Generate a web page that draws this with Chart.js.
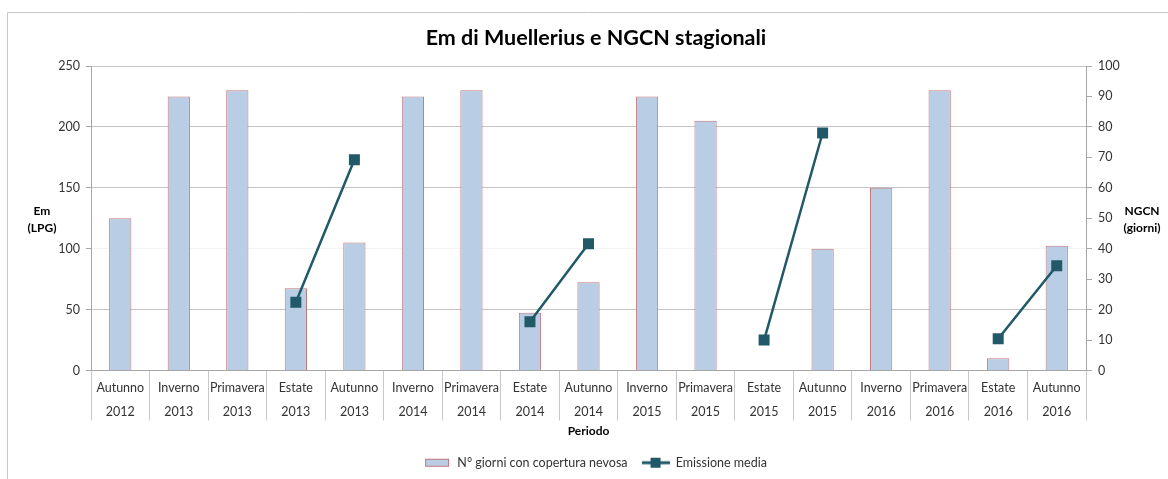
<!DOCTYPE html>
<html>
<head>
<meta charset="utf-8">
<script src="https://cdn.jsdelivr.net/npm/chart.js@4"></script>
<style>
  body { margin: 0; background: #fff; }
</style>
</head>
<body>
<canvas id="chart" width="1168" height="479"></canvas>
<script>
// --- data ---
const seasons = ['Autunno', 'Inverno', 'Primavera', 'Estate', 'Autunno', 'Inverno', 'Primavera', 'Estate', 'Autunno',
                 'Inverno', 'Primavera', 'Estate', 'Autunno', 'Inverno', 'Primavera', 'Estate', 'Autunno'];
const years = ['2012', '2013', '2013', '2013', '2013', '2014', '2014', '2014', '2014',
               '2015', '2015', '2015', '2015', '2016', '2016', '2016', '2016'];
// N° giorni con copertura nevosa (right axis)
const giorniNeve = [50, 90, 92, 27, 42, 90, 92, 19, 29, 90, 82, 0, 40, 60, 92, 4, 41];
// Emissione media (left axis), only estate/autunno
const emissione = [null, null, null, 56, 173, null, null, 40, 104, null, null, 25, 195, null, null, 26, 86];

const leftTicks = { min: 0, max: 250, step: 50 };
const rightTicks = { min: 0, max: 100, step: 10 };

const chartTitle = 'Em di Muellerius e NGCN stagionali';

const barFill = '#b9cde5';
const barBorder = '#c0757a';
const lineColor = '#215968';
const axisGray = '#a6a6a6';

Chart.defaults.font.family = 'Lato';
Chart.defaults.font.size = 12;
Chart.defaults.color = '#333';

function legendIcon(kind) {
    const c = document.createElement('canvas');
    c.width = 28; c.height = 12;
    const g = c.getContext('2d');
    if (kind === 'bar') {
        g.fillStyle = barFill;
        g.fillRect(2, 2, 24, 8);
        g.strokeStyle = barBorder;
        g.lineWidth = 1;
        g.strokeRect(2.5, 2.5, 23, 7);
    } else {
        g.strokeStyle = lineColor;
        g.lineWidth = 3;
        g.beginPath(); g.moveTo(0, 6); g.lineTo(28, 6); g.stroke();
        g.fillStyle = lineColor;
        g.fillRect(9, 1, 10, 10);
    }
    return c;
}
const icons = [legendIcon('bar'), legendIcon('line')];

// frame, title (centred on the frame, not the canvas) and horizontal axis titles
const extras = {
    id: 'extras',
    beforeDraw(chart) {
        const ctx = chart.ctx;
        ctx.save();
        ctx.strokeStyle = '#c8c8c8';
        ctx.lineWidth = 1;
        ctx.beginPath();
        ctx.moveTo(7.5, 479); ctx.lineTo(7.5, 12.5); ctx.lineTo(1168, 12.5);
        ctx.stroke();
        ctx.restore();
    },
    afterDraw(chart) {
        const ctx = chart.ctx;
        const mid = (chart.chartArea.top + chart.chartArea.bottom) / 2;
        ctx.save();
        ctx.fillStyle = '#000';
        ctx.textAlign = 'center';
        ctx.textBaseline = 'middle';
        ctx.font = 'bold 21.5px Lato';
        ctx.fillText(chartTitle, 596, 38);
        ctx.font = 'bold 12px Lato';
        ctx.fillText('Em', 42, mid - 7);
        ctx.fillText('(LPG)', 42, mid + 10);
        ctx.fillText('NGCN', 1142, mid - 7);
        ctx.fillText('(giorni)', 1142, mid + 10);
        ctx.restore();
    }
};

new Chart(document.getElementById('chart').getContext('2d'), {
    type: 'bar',
    data: {
        labels: seasons.map((s, i) => [s, years[i]]),
        datasets: [
            {
                type: 'bar',
                label: 'N° giorni con copertura nevosa',
                data: giorniNeve,
                yAxisID: 'yR',
                backgroundColor: barFill,
                borderColor: barBorder,
                borderWidth: 1,
                barPercentage: 0.38,
                categoryPercentage: 1,
                order: 2
            },
            {
                type: 'line',
                label: 'Emissione media',
                data: emissione,
                yAxisID: 'yL',
                borderColor: lineColor,
                backgroundColor: lineColor,
                borderWidth: 2.5,
                pointStyle: 'rect',
                pointRadius: 6,
                pointHoverRadius: 6,
                spanGaps: false,
                order: 1
            }
        ]
    },
    options: {
        responsive: false,
        animation: false,
        // left padding pushes the legend centre onto the frame centre
        layout: { padding: { left: 22, right: 0, top: 66, bottom: 0 } },
        plugins: {
            title: { display: false },
            legend: {
                position: 'bottom',
                labels: {
                    usePointStyle: true,
                    pointStyleWidth: 28,
                    padding: 14,
                    color: '#333',
                    font: { size: 12.5 },
                    generateLabels: chart => chart.data.datasets.map((ds, i) => ({
                        text: ds.label,
                        pointStyle: icons[i],
                        datasetIndex: i,
                        hidden: false,
                        fillStyle: 'transparent',
                        strokeStyle: 'transparent',
                        lineWidth: 0,
                        fontColor: '#333'
                    }))
                }
            },
            tooltip: { enabled: false }
        },
        scales: {
            x: {
                offset: true,
                grid: { offset: true, drawOnChartArea: false, tickLength: 50, color: '#c8c8c8' },
                border: { color: axisGray },
                ticks: { autoSkip: false, maxRotation: 0, padding: -44, font: { size: 12.5, lineHeight: 1.9 } },
                title: { display: true, text: 'Periodo', color: '#000', font: { size: 12, weight: 'bold' }, padding: { top: 0, bottom: 4 } },
                afterFit(s) { s.height = 72; }
            },
            yL: {
                position: 'left',
                min: leftTicks.min,
                max: leftTicks.max,
                ticks: { stepSize: leftTicks.step, padding: 6, font: { size: 12.5 } },
                grid: {
                    tickLength: 5,
                    tickColor: axisGray,
                    color: ctx => (ctx.tick && ctx.tick.value === 100) ? '#f4f4f4' : '#c4c4c4'
                },
                border: { color: axisGray },
                afterFit(s) { s.width = 69; }
            },
            yR: {
                position: 'right',
                min: rightTicks.min,
                max: rightTicks.max,
                ticks: { stepSize: rightTicks.step, padding: 6, font: { size: 12.5 } },
                grid: { drawOnChartArea: false, tickLength: 6, color: axisGray },
                border: { color: axisGray },
                afterFit(s) { s.width = 82; }
            }
        }
    },
    plugins: [extras]
});
</script>
</body>
</html>
